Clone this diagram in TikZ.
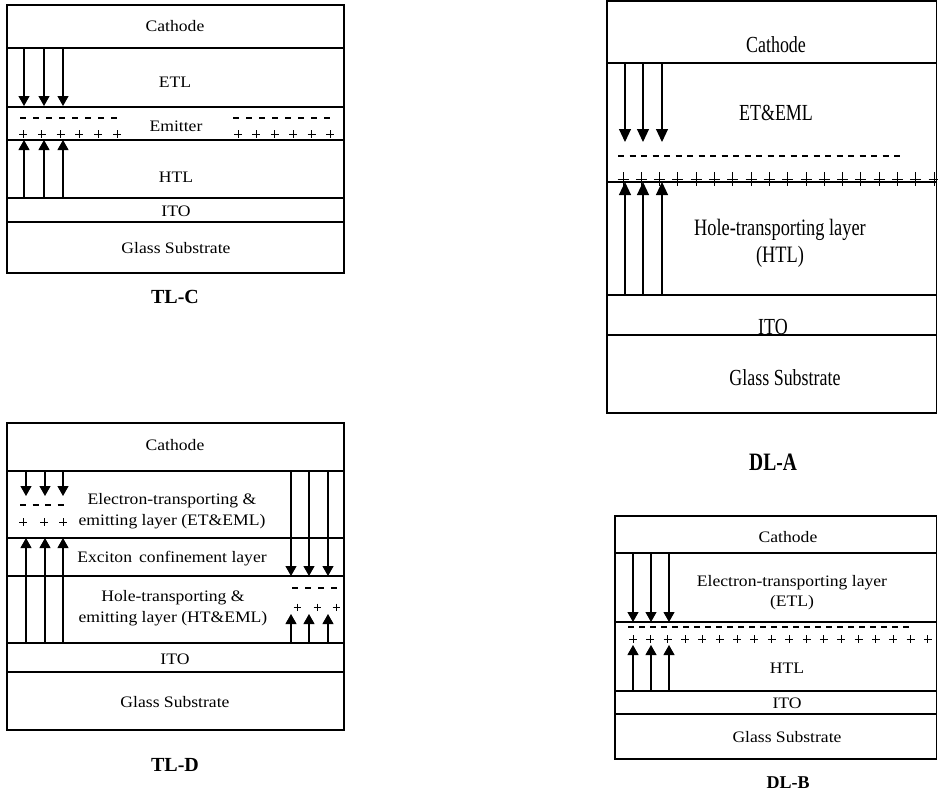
\documentclass[tikz,border=0pt]{standalone}
\usepackage{fontspec}
\setmainfont{Liberation Serif}
\newfontfamily\fa[FakeStretch=1.1]{Liberation Serif}
\newfontfamily\fb[FakeStretch=0.78]{Liberation Serif}
\usetikzlibrary{arrows.meta}
\begin{document}
\begin{tikzpicture}[x=1pt,y=-1pt,
  lay/.style={line width=1.3pt},
  ta/.style={font=\fa\fontsize{16}{21}\selectfont, align=center, inner sep=0pt},
  tb/.style={font=\fb\fontsize{23}{27}\selectfont, align=center, inner sep=0pt},
  capt/.style={font=\bfseries\fontsize{20}{24}\selectfont, inner sep=0pt},
  arr/.style={line width=1.1pt, -{Triangle[width=11pt,length=10pt]}},
  arrb/.style={line width=1.1pt, -{Triangle[width=12pt,length=13pt]}},
  dsh/.style={line width=1.8pt, dash pattern=on 6pt off 7pt},
  pl/.style={line width=1pt}]
\useasboundingbox (0,0) rectangle (938,793);

% ================= TL-C =================
\draw[lay] (7,5) rectangle (344,273);
\draw[lay] (7,48) -- (344,48) (7,107) -- (344,107) (7,140) -- (344,140)
           (7,198) -- (344,198) (7,222) -- (344,222);
\node[ta] (c1) at (175,26) {Cathode};
\node[ta] (c2) at (175,82) {ETL};
\node[ta] (c3) at (176,126) {Emitter};
\node[ta] (c4) at (176,177) {HTL};
\node[ta] (c5) at (176,211) {ITO};
\node[ta] (c6) at (176,248) {Glass Substrate};
\node[capt] (c7) at (175,297) {TL-C};
\foreach \x in {24,44,63} {
  \draw[arr] (\x,48) -- (\x,106);
  \draw[arr] (\x,198) -- (\x,140);
}
\draw[dsh] (20,118) -- (117,118);
\draw[dsh] (233,118) -- (330,118);
\foreach \i in {0,...,5} {
  \draw[pl] ({23+18.8*\i},134) +(-4,0) -- +(4,0) +(0,-4) -- +(0,4);
  \draw[pl] ({238+18.4*\i},134) +(-4,0) -- +(4,0) +(0,-4) -- +(0,4);
}

% ================= TL-D =================
\draw[lay] (7,423) rectangle (344,730);
\draw[lay] (7,471) -- (344,471) (7,538) -- (344,538) (7,576) -- (344,576)
           (7,643) -- (344,643) (7,672) -- (344,672);
\node[ta] (d1) at (175,445) {Cathode};
\node[ta] (d2) at (172,511) {Electron-transporting \&\\emitting layer (ET\&EML)};
\node[ta] (d3) at (172,559) {Exciton\, confinement layer};
\node[ta] (d4) at (173,608) {Hole-transporting \&\\emitting layer (HT\&EML)};
\node[ta] (d5) at (175,659) {ITO};
\node[ta] (d6) at (175,702) {Glass Substrate};
\node[capt] (d7) at (175,765) {TL-D};
\foreach \x in {26,45,63} {
  \draw[arr] (\x,471) -- (\x,496);
  \draw[arr] (\x,643) -- (\x,538);
}
\foreach \x in {291,309,328} {
  \draw[arr] (\x,471) -- (\x,576);
  \draw[arr] (\x,643) -- (\x,614);
}
\draw[dsh, dash pattern=on 6pt off 6.5pt] (20,505) -- (63.5,505);
\draw[dsh, dash pattern=on 6pt off 7pt] (292,588) -- (337,588);
\foreach \x in {23,44,63}
  \draw[pl] (\x,522) +(-4,0) -- +(4,0) +(0,-4) -- +(0,4);
\foreach \x in {297,317,336}
  \draw[pl] (\x,607) +(-3.5,0) -- +(3.5,0) +(0,-3.5) -- +(0,3.5);

% ================= DL-A =================
\draw[lay] (607,1) rectangle (936.5,413);
\draw[lay] (607,63) -- (936.5,63) (607,182) -- (936.5,182)
           (607,295) -- (936.5,295) (607,335) -- (936.5,335);
\node[tb] (a1) at (776,45) {Cathode};
\node[tb] (a2) at (776,113) {ET\&EML};
\node[tb, font=\fb\fontsize{23.5}{27}\selectfont] (a3) at (780,243) {Hole-transporting layer\\(HTL)};
\node[tb, anchor=base] (a4) at (773,334) {ITO};
\node[tb] (a5) at (785,378) {Glass Substrate};
\node[capt, font=\fb\bfseries\fontsize{25}{28}\selectfont] (a6) at (773,462) {DL-A};
\foreach \x in {625,643,662} {
  \draw[arrb] (\x,63) -- (\x,142);
  \draw[arrb] (\x,295) -- (\x,182);
}
\draw[dsh, line width=2.2pt, dash pattern=on 6pt off 5.5pt] (618,156) -- (900,156);
\foreach \i in {0,...,17}
  \draw[pl] ({623+18.3*\i},179) +(-5.5,0) -- +(5.5,0) +(0,-7) -- +(0,7);

% ================= DL-B =================
\draw[lay] (615,516) rectangle (936.5,759);
\draw[lay] (615,553) -- (936.5,553) (615,622) -- (936.5,622)
           (615,691) -- (936.5,691) (615,714) -- (936.5,714);
\node[ta] (b1) at (788,537) {Cathode};
\node[ta, font=\fa\fontsize{16}{20}\selectfont] (b2) at (792,593) {Electron-transporting layer\\(ETL)};
\node[ta] (b3) at (787,668) {HTL};
\node[ta] (b4) at (787,703) {ITO};
\node[ta] (b5) at (787,737) {Glass Substrate};
\node[capt, font=\bfseries\fontsize{18}{21}\selectfont] (b6) at (788,783) {DL-B};
\foreach \x in {633,651,669} {
  \draw[arr] (\x,553) -- (\x,622);
  \draw[arr] (\x,691) -- (\x,645);
}
\draw[dsh, line width=1.5pt, dash pattern=on 6pt off 5pt] (628,627) -- (909,627);
\foreach \i in {0,...,17}
  \draw[pl] ({633+17.35*\i},639) +(-4,0) -- +(4,0) +(0,-4) -- +(0,4);
\end{tikzpicture}
\end{document}
